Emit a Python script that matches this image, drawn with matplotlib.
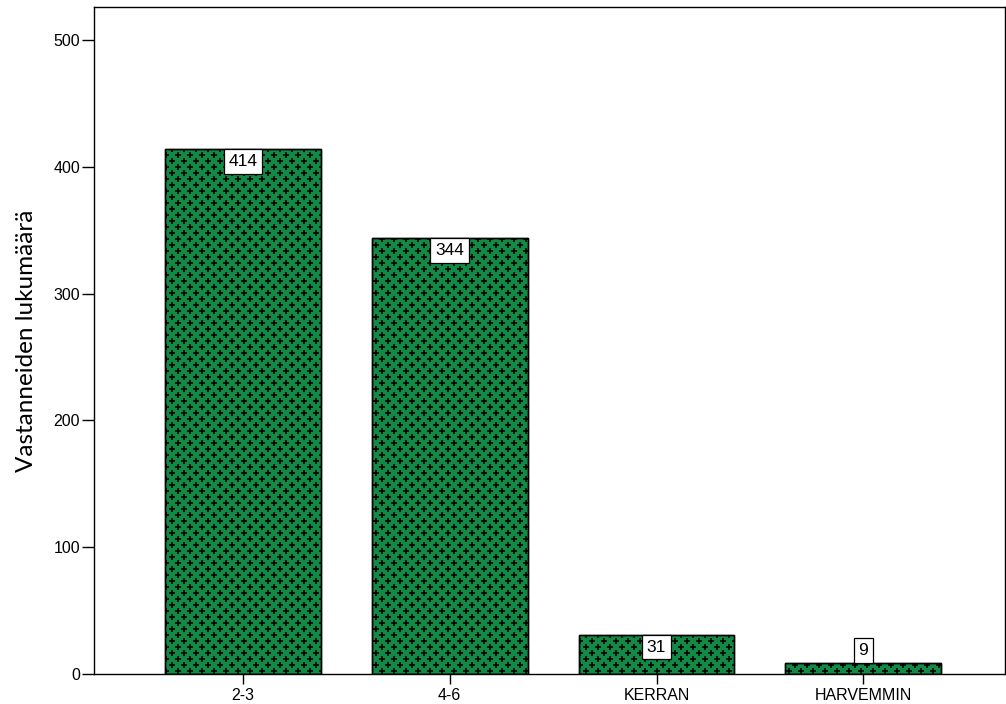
import numpy as np
import matplotlib
matplotlib.use("Agg")
import matplotlib.pyplot as plt

# data
categories = ["2-3", "4-6", "KERRAN", "HARVEMMIN"]
counts = [414, 344, 31, 9]
ylabel = "Vastanneiden lukumäärä"

bar_color = "#128a45"

fig = plt.figure(figsize=(10.06, 7.04), dpi=100)
ax = fig.add_axes([94 / 1006, 30 / 704, 911 / 1006, 667 / 704])

x = np.arange(len(categories))
bars = ax.bar(x, counts, width=0.754, color=bar_color, edgecolor="black",
              linewidth=1.0, zorder=2)

ax.set_xlim(-0.72, 3.685)
ax.set_ylim(0, 526)

# plus-sign texture, staggered grid clipped to each bar
xs_step = 12 / 207.0    # 12 px in data units
ys_step = 6 / 1.268     # 6 px in data units
gx, gy = [], []
row = 0
yy = 2.0
while yy < 526:
    off = (row % 2) * xs_step / 2
    xx = -0.72 + off
    while xx < 3.7:
        gx.append(xx)
        gy.append(yy)
        xx += xs_step
    yy += ys_step
    row += 1
for b in bars:
    sc = ax.scatter(gx, gy, marker="+", s=22, color="black", linewidths=1.15, zorder=3)
    sc.set_clip_path(b)
    # redraw edge on top
    ax.bar(b.get_x() + b.get_width() / 2, b.get_height(), width=b.get_width(),
           fill=False, edgecolor="black", linewidth=1.0, zorder=4)

# value labels
box = dict(boxstyle="square,pad=0.28", fc="white", ec="black", lw=0.9)
for xi, v in zip(x, counts):
    if v > 20:
        ax.annotate(str(v), (xi, v), xytext=(0, -3.5), textcoords="offset points",
                    ha="center", va="top", fontsize=12.5, family="Liberation Sans",
                    bbox=box, zorder=5)
    else:
        ax.annotate(str(v), (xi, v), xytext=(0, 3.5), textcoords="offset points",
                    ha="center", va="bottom", fontsize=12.5, family="Liberation Sans",
                    bbox=box, zorder=5)

ax.set_xticks(x)
ax.set_xticklabels(categories, family="Liberation Sans", fontsize=11.5)
ax.set_yticks([0, 100, 200, 300, 400, 500])
ax.set_yticklabels(["0", "100", "200", "300", "400", "500"],
                   family="Liberation Sans", fontsize=11.5)
ax.tick_params(axis="y", length=9, width=1, pad=1)
ax.tick_params(axis="x", length=7, width=1, pad=3)
ax.set_ylabel(ylabel, family="Lato", fontsize=17.5, labelpad=12)

for s in ax.spines.values():
    s.set_linewidth(1.0)
    s.set_color("black")

fig.savefig("out.png", dpi=100)
